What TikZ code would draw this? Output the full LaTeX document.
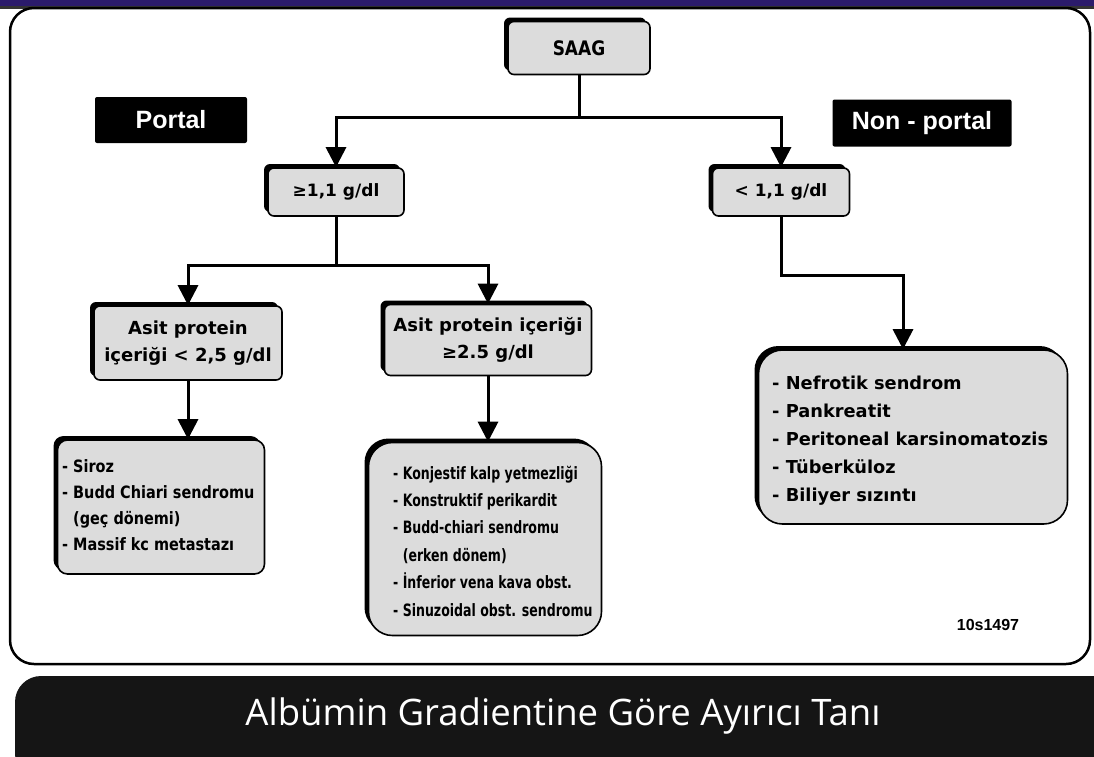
\documentclass[tikz,border=0pt]{standalone}
\usepackage{fontspec}
\setmainfont{DejaVu Sans}
\newfontfamily\comic{DejaVu Sans}
\newfontfamily\comicL{DejaVu Sans}[FakeStretch=0.85]
\newfontfamily\comicM{DejaVu Sans Condensed}[FakeStretch=0.82]
\newfontfamily\arialf{Liberation Sans}
\newfontfamily\titlef{Open Sans}
\usetikzlibrary{arrows.meta,shadows}
\definecolor{boxgray}{HTML}{DCDCDC}
\definecolor{topbar}{HTML}{2B1B6B}
\definecolor{darkbar}{HTML}{151515}
\begin{document}
\begin{tikzpicture}[x=1pt,y=-1pt,
  gbox/.style={draw=black,line width=1.6pt,fill=boxgray,rounded corners=6pt,
    drop shadow={shadow xshift=-4pt,shadow yshift=4pt,fill=black,opacity=1},
    font=\comic\bfseries\fontsize{18}{27}\selectfont,align=center,inner sep=0pt},
  ltext/.style={anchor=west,align=left,inner sep=0pt},
  tag/.style={fill=black,text=white,font=\arialf\bfseries\fontsize{25}{28}\selectfont,inner sep=0pt,rounded corners=2pt},
  conn/.style={line width=3pt,black},
  arr/.style={conn,-{Triangle[width=20pt,length=20pt]}}]
\useasboundingbox (0,0) rectangle (1094,756);
\fill[white] (0,0) rectangle (1094,756);
% top bar
\fill[topbar] (0,0) rectangle (1094,7);
\fill[black!80] (0,6) rectangle (1094,9);
% main panel
\draw[line width=2.5pt,fill=white,rounded corners=24pt] (10,8) rectangle (1090,664);
% bottom title bar
\fill[darkbar,rounded corners=26pt] (15,676) rectangle (1120,780);
\node[text=white,font=\titlef\fontsize{36.5}{40}\selectfont] (title) at (563,716) {Albümin Gradientine Göre Ayırıcı Tanı};
% tags
\node[tag,minimum width=152pt,minimum height=46pt] (portal) at (171,120) {Portal};
\node[tag,minimum width=179pt,minimum height=47pt] (nonportal) at (922,123) {Non - portal};
% boxes
\node[gbox,font=\comicL\bfseries\fontsize{20}{24}\selectfont,minimum width=142pt,minimum height=53pt] (saag) at (579,48) {SAAG};
\node[gbox,font=\comic\bfseries\fontsize{17}{20}\selectfont,minimum width=136pt,minimum height=48pt] (g1) at (336,192) {≥1,1 g/dl};
\node[gbox,font=\comic\bfseries\fontsize{17}{20}\selectfont,minimum width=137pt,minimum height=48pt] (l1) at (781,192) {< 1,1 g/dl};
\node[gbox,minimum width=188pt,minimum height=74pt] (ap1) at (188,343) {Asit protein\\içeriği < 2,5 g/dl};
\node[gbox,minimum width=207pt,minimum height=71pt] (ap2) at (488,340) {Asit protein içeriği\\≥2.5 g/dl};
\node[gbox,rounded corners=10pt,minimum width=207pt,minimum height=134pt] (list1) at (161,507) {};
\node[gbox,rounded corners=24pt,minimum width=233pt,minimum height=193pt] (list2) at (485,539) {};
\node[gbox,rounded corners=24pt,minimum width=309pt,minimum height=174pt] (list3) at (913,437) {};
\node[ltext,font=\comicL\bfseries\fontsize{17}{26}\selectfont] (t1) at (62,505)
 {- Siroz\\- Budd Chiari sendromu\\\phantom{-} (geç dönemi)\\- Massif kc metastazı};
\node[ltext,font=\comicM\bfseries\fontsize{17}{27.4}\selectfont] (t2) at (393,541)
 {- Konjestif kalp yetmezliği\\- Konstruktif perikardit\\- Budd-chiari sendromu\\\phantom{-} (erken dönem)\\- İnferior vena kava obst.\\- Sinuzoidal obst. sendromu};
\node[ltext,font=\comic\bfseries\fontsize{17.8}{28}\selectfont] (t3) at (772,441)
 {- Nefrotik sendrom\\- Pankreatit\\- Peritoneal karsinomatozis\\- Tüberküloz\\- Biliyer sızıntı};
\node[font=\arialf\bfseries\fontsize{16}{18}\selectfont] (code) at (988,625) {10s1497};
% connectors
\coordinate (j1) at (579,117);
\coordinate (j2) at (336,265);
\coordinate (j3) at (903,275);
\draw[conn] (saag.south) -- (j1);
\draw[arr] (j1) -| (g1.north);
\draw[arr] (j1) -| (l1.north);
\draw[conn] (g1.south) -- (j2);
\draw[arr] (j2) -| (ap1.north);
\draw[arr] (j2) -| (ap2.north);
\draw[arr] (ap1.south) -- (ap1.south |- list1.north);
\draw[arr] (ap2.south) -- (ap2.south |- list2.north);
\draw[arr] (l1.south) |- (j3) -- (j3 |- list3.north);
\end{tikzpicture}
\end{document}
